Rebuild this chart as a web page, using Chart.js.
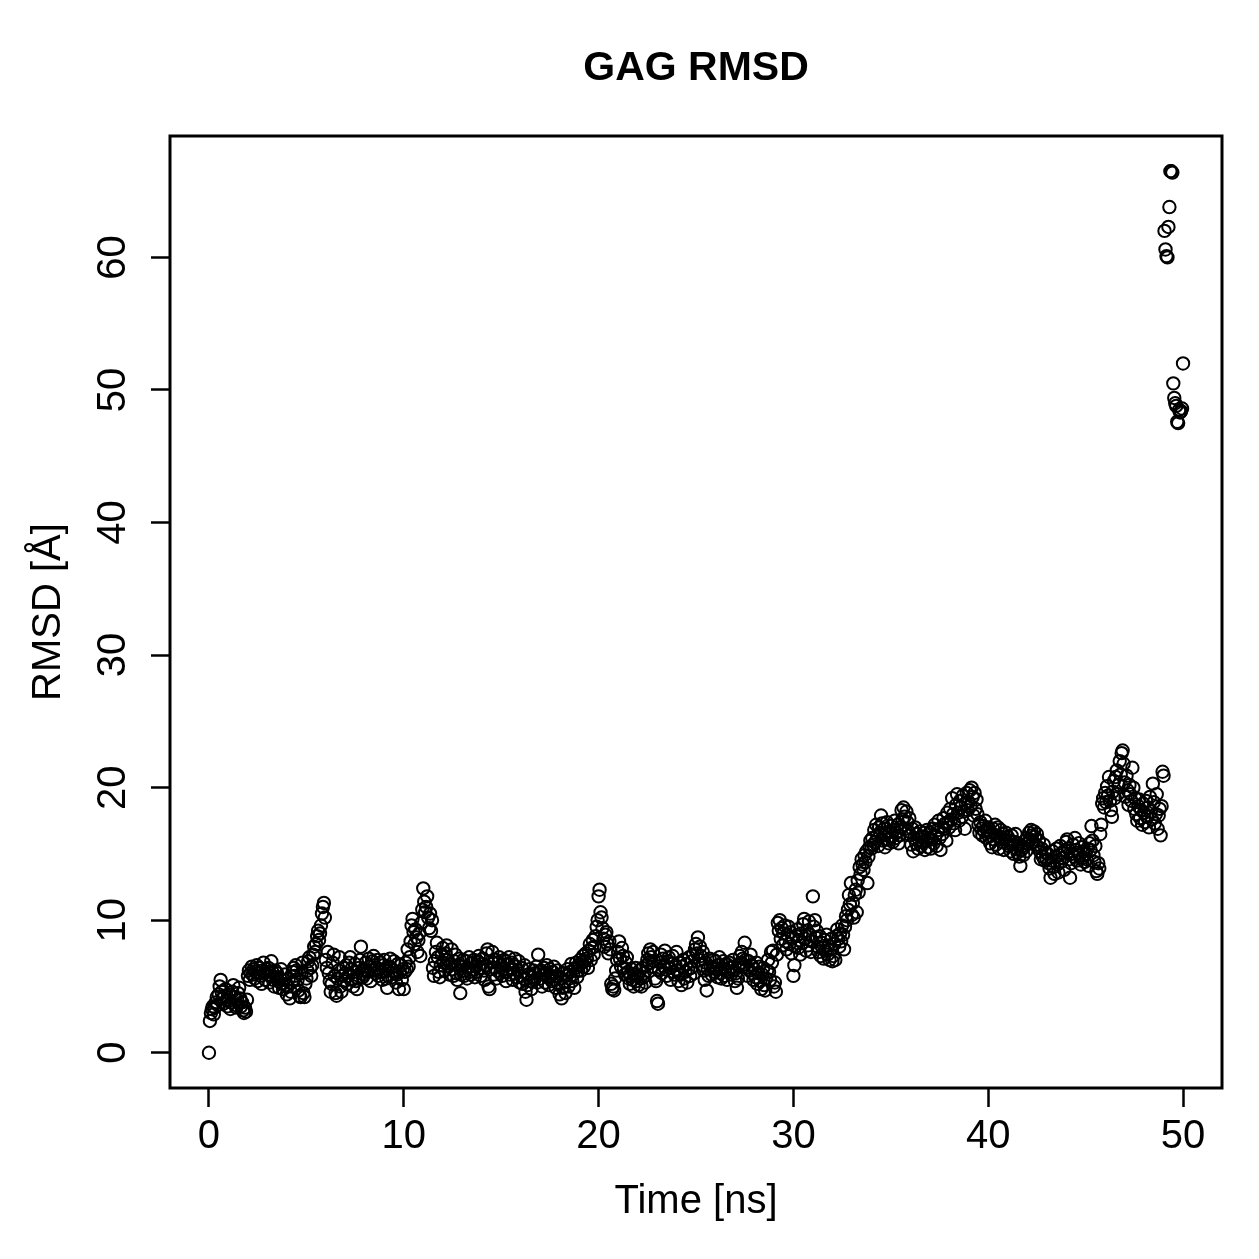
<!DOCTYPE html>
<html>
<head>
<meta charset="utf-8">
<script src="https://cdn.jsdelivr.net/npm/chart.js@4.4.0/dist/chart.umd.min.js"></script>
<style>
  html, body { margin: 0; padding: 0; background: #fff; }
  canvas { display: block; }
</style>
</head>
<body>
<canvas id="myChart" width="1259" height="1259"></canvas>
<script>
const chartTitle = 'GAG RMSD';
const xTitle = 'Time [ns]';
const yTitle = 'RMSD [Å]';
const xTicks = [0, 10, 20, 30, 40, 50];
const yTicks = [0, 10, 20, 30, 40, 50, 60];
const timeStep = 0.05; // ns between frames

// RMSD in Angstrom, one row per ns
const rmsd = [
  0.0, 2.4, 3.0, 3.3, 3.5, 2.9, 3.4, 3.8, 4.2, 3.6, 4.4, 5.0, 5.5, 4.6, 4.1, 3.7, 4.3, 4.8, 4.0, 3.5,
  3.9, 4.4, 3.3, 3.8, 4.6, 5.1, 4.2, 3.6, 3.4, 4.0, 4.5, 4.9, 4.1, 3.5, 3.8, 3.2, 3.0, 3.4, 3.1, 4.0,
  5.8, 6.2, 5.5, 6.0, 6.5, 5.9, 6.3, 5.6, 6.1, 6.6, 5.4, 6.0, 6.4, 5.8, 5.2, 6.2, 6.8, 6.0, 5.5, 6.3,
  5.9, 6.4, 5.3, 5.8, 6.9, 6.1, 5.5, 5.0, 6.2, 5.7, 6.0, 5.4, 4.9, 5.6, 6.3, 5.2, 4.8, 5.5, 5.9, 5.1,
  4.4, 5.0, 5.6, 4.1, 4.6, 5.3, 6.1, 6.4, 5.8, 6.6, 6.2, 5.5, 4.7, 4.3, 4.2, 6.0, 6.8, 4.5, 4.2, 5.2,
  5.6, 6.2, 6.9, 7.2, 6.4, 5.8, 6.6, 7.4, 8.0, 7.6, 8.2, 8.8, 9.2, 8.5, 9.0, 9.6, 10.5, 11.0, 11.3, 10.2,
  7.0, 6.4, 7.6, 6.0, 5.4, 4.6, 5.2, 6.8, 7.4, 5.8, 4.5, 4.3, 5.6, 6.2, 7.2, 5.0, 4.6, 5.8, 6.4, 5.4,
  6.0, 6.6, 5.2, 5.8, 6.8, 7.2, 6.3, 5.5, 5.0, 6.1, 6.7, 5.4, 4.8, 5.6, 6.4, 7.0, 8.0, 6.2, 5.7, 5.9,
  6.3, 6.8, 5.6, 6.1, 7.1, 6.5, 5.4, 6.2, 6.9, 7.3, 6.6, 6.0, 6.4, 7.0, 5.8, 6.3, 6.8, 6.1, 5.5, 6.6,
  7.0, 6.2, 5.6, 4.9, 5.8, 6.5, 7.1, 6.4, 5.7, 6.2, 6.9, 6.0, 5.3, 5.9, 6.7, 4.8, 6.1, 6.6, 5.5, 6.3,
  4.8, 6.1, 6.8, 6.3, 7.8, 6.5, 7.2, 8.4, 9.6, 10.1, 9.1, 8.2, 9.3, 8.7, 7.6, 8.5, 9.0, 7.3, 9.8, 10.8,
  12.4, 11.4, 10.6, 11.0, 11.8, 10.2, 9.4, 10.5, 9.2, 10.0, 6.4, 5.8, 6.9, 7.6, 8.3, 7.2, 6.1, 5.7, 6.6, 7.4,
  7.9, 6.8, 6.2, 7.5, 8.1, 7.0, 6.5, 5.9, 6.7, 7.8, 6.3, 5.8, 6.9, 7.4, 6.0, 5.5, 6.6, 7.1, 4.5, 5.9,
  6.5, 7.0, 5.8, 6.2, 6.9, 5.6, 6.4, 7.2, 6.1, 5.9, 6.8, 6.3, 7.0, 5.7, 6.5, 6.1, 6.9, 7.3, 6.4, 5.8,
  6.7, 7.1, 6.2, 5.5, 6.6, 7.5, 7.8, 5.0, 4.8, 6.3, 6.9, 7.6, 5.9, 6.4, 7.0, 5.6, 6.2, 6.8, 7.2, 6.0,
  6.6, 5.8, 6.3, 7.0, 6.9, 5.4, 6.1, 6.7, 7.2, 5.9, 6.4, 6.8, 5.5, 6.0, 7.1, 6.5, 5.7, 6.2, 6.9, 5.3,
  5.8, 6.4, 5.2, 5.6, 6.6, 4.6, 4.0, 5.1, 5.9, 6.3, 5.4, 4.8, 5.7, 6.2, 5.5, 6.0, 6.5, 5.3, 7.4, 6.1,
  5.6, 6.2, 5.0, 5.9, 6.4, 5.3, 6.0, 6.6, 5.7, 5.1, 6.3, 5.8, 5.4, 6.1, 6.5, 5.5, 4.9, 5.8, 6.2, 5.2,
  4.4, 5.6, 4.1, 4.9, 6.0, 5.3, 4.5, 5.8, 6.3, 5.0, 5.6, 6.1, 6.7, 5.4, 5.9, 4.9, 6.4, 6.8, 5.7, 6.2,
  6.6, 7.0, 6.2, 6.8, 7.3, 6.5, 6.9, 7.5, 7.1, 6.4, 7.7, 8.2, 7.0, 7.9, 8.5, 7.4, 8.0, 8.8, 9.5, 10.0,
  11.8, 12.3, 10.6, 10.2, 9.4, 8.6, 8.0, 8.9, 9.1, 8.2, 7.5, 8.4, 7.8, 5.2, 4.8, 5.0, 4.7, 5.6, 6.2, 7.0,
  7.6, 8.4, 7.1, 6.5, 7.9, 7.3, 6.4, 5.9, 6.8, 7.2, 6.1, 5.6, 5.2, 5.8, 6.3, 5.5, 5.0, 5.9, 6.4, 5.4,
  5.8, 5.1, 6.2, 5.6, 5.0, 6.4, 5.7, 6.0, 5.3, 6.6, 7.0, 7.5, 6.8, 7.8, 7.2, 6.5, 7.6, 6.9, 5.6, 5.4,
  3.9, 3.7, 6.2, 6.8, 7.4, 6.0, 7.1, 6.5, 7.7, 6.3, 5.8, 6.9, 7.2, 6.4, 5.5, 6.7, 7.3, 6.1, 5.9, 6.6,
  7.6, 6.2, 5.4, 6.8, 5.9, 5.1, 6.5, 7.0, 5.6, 6.1, 6.7, 5.3, 6.3, 7.2, 5.8, 6.4, 6.9, 7.4, 6.0, 7.8,
  8.2, 7.5, 8.7, 7.0, 8.0, 7.3, 6.6, 7.6, 6.2, 5.5, 6.8, 4.7, 6.3, 5.8, 7.1, 6.5, 5.9, 6.4, 7.0, 6.1,
  6.9, 6.3, 5.7, 6.6, 7.2, 6.0, 5.6, 6.4, 6.9, 5.8, 6.2, 6.7, 5.5, 6.1, 6.8, 6.4, 5.9, 6.5, 7.0, 6.2,
  5.4, 6.0, 4.9, 5.6, 6.6, 7.3, 6.8, 7.6, 7.1, 6.5, 8.3, 7.0, 6.4, 5.8, 6.9, 6.2, 7.4, 6.6, 6.0, 5.5,
  6.3, 5.7, 6.8, 5.2, 6.0, 6.5, 5.4, 4.8, 5.9, 6.4, 5.1, 4.7, 5.6, 6.2, 7.0, 6.1, 5.5, 7.6, 6.8, 7.7,
  5.0, 5.3, 4.6, 7.4, 9.8, 9.2, 10.0, 8.6, 9.4, 8.1, 9.0, 9.6, 8.4, 7.8, 8.9, 9.5, 8.2, 9.1, 7.5, 8.7,
  5.8, 6.6, 8.0, 8.8, 9.3, 7.9, 8.5, 7.4, 9.0, 8.3, 9.7, 10.1, 8.6, 7.7, 9.2, 8.1, 9.9, 8.9, 7.6, 8.4,
  11.8, 9.5, 10.0, 8.7, 9.2, 8.0, 7.6, 8.8, 7.3, 8.3, 7.9, 7.1, 8.5, 7.7, 8.9, 7.4, 8.1, 7.0, 7.8, 8.6,
  6.9, 7.3, 8.2, 7.0, 8.8, 9.3, 8.6, 8.0, 9.0, 8.4, 9.6, 8.9, 7.8, 9.5, 10.3, 10.0, 10.8, 11.9, 11.2, 12.8,
  10.4, 11.3, 10.2, 11.9, 12.3, 10.6, 13.0, 12.1, 14.0, 13.5, 14.6, 14.2, 13.8, 14.9, 14.4, 15.2, 12.8, 14.8, 15.5, 16.0,
  15.4, 16.2, 15.7, 16.8, 15.9, 17.2, 16.4, 15.6, 17.0, 16.6, 17.9, 17.3, 16.0, 16.9, 15.5, 16.5, 17.4, 16.1, 15.8, 16.7,
  17.1, 16.3, 15.9, 16.8, 17.5, 16.2, 16.6, 17.2, 15.8, 16.4, 17.0, 18.3, 17.6, 18.5, 17.8, 16.9, 18.2, 17.4, 16.7, 17.7,
  16.4, 15.7, 16.9, 15.2, 16.2, 17.0, 15.8, 16.5, 15.4, 16.1, 16.7, 15.6, 16.3, 15.9, 16.6, 15.3, 16.0, 16.8, 15.5, 16.2,
  16.6, 15.4, 16.1, 16.9, 15.8, 17.2, 16.4, 15.6, 16.8, 17.5, 16.2, 15.3, 17.0, 16.5, 17.7, 16.9, 17.3, 16.0, 18.1, 17.4,
  17.0, 18.4, 17.6, 19.2, 18.0, 17.3, 16.8, 18.7, 19.5, 18.1, 17.5, 19.0, 18.5, 17.8, 19.4, 18.2, 16.9, 18.8, 19.6, 18.3,
  18.9, 19.8, 18.6, 20.0, 19.3, 17.9, 19.6, 18.4, 19.1, 18.0, 17.2, 16.6, 17.4, 16.9, 16.4, 17.1, 16.7, 17.5, 16.2, 16.8,
  17.0, 16.3, 15.8, 16.6, 15.5, 16.9, 16.1, 17.2, 15.7, 16.4, 17.0, 15.4, 16.2, 16.8, 15.9, 16.5, 15.3, 16.1, 16.6, 15.8,
  16.3, 15.6, 16.0, 15.2, 16.4, 15.7, 15.0, 15.9, 16.5, 15.4, 15.1, 15.8, 14.8, 14.1, 15.3, 15.6, 14.9, 15.5, 16.0, 15.2,
  16.2, 15.8, 16.6, 16.1, 16.8, 16.4, 15.9, 16.7, 16.3, 15.7, 16.5, 15.5, 16.0, 15.2, 14.6, 15.4, 14.8, 15.7, 14.5, 15.1,
  14.6, 15.0, 14.3, 13.9, 13.2, 14.5, 15.2, 14.0, 13.5, 14.8, 15.4, 14.2, 13.6, 14.9, 15.6, 14.4, 15.1, 14.7, 13.8, 15.3,
  15.9, 16.1, 15.4, 14.6, 13.2, 14.3, 15.0, 15.7, 14.8, 16.2, 15.3, 14.5, 15.1, 15.8, 14.9, 14.2, 15.5, 14.7, 15.2, 14.4,
  15.0, 14.6, 15.4, 14.1, 15.8, 15.3, 17.1, 16.0, 14.9, 14.4, 15.6, 13.7, 13.5, 14.3, 13.9, 16.5, 17.2, 18.8, 19.2, 18.5,
  19.6, 18.9, 20.1, 19.4, 20.8, 19.0, 18.3, 17.8, 19.7, 20.5, 19.2, 20.8, 21.3, 19.5, 20.2, 22.0, 21.0, 22.6, 22.8, 21.8,
  20.4, 19.3, 20.9, 19.8, 18.7, 20.2, 19.5, 19.0, 21.5, 20.0, 18.4, 19.2, 18.0, 17.5, 18.6, 19.1, 17.7, 18.3, 17.2, 18.8,
  18.1, 17.4, 19.0, 17.8, 18.5, 17.0, 19.3, 18.2, 17.6, 20.3, 18.9, 17.3, 18.0, 19.5, 16.9, 17.9, 18.4, 16.4, 18.6, 21.2,
  20.9, 62.0, 60.6, 60.1, 60.0, 62.3, 63.8, 66.5, 66.5, 66.4, 50.5, 49.4, 49.0, 48.8, 47.6, 47.5, 48.5, 48.3, 48.4, 48.6,
  52.0
];

const fontFamily = '"Liberation Sans", Arial, Helvetica, sans-serif';
const points = rmsd.map((v, i) => ({ x: i * timeStep, y: v }));

const background = {
  id: 'background',
  beforeDraw: (chart) => {
    const ctx = chart.ctx;
    ctx.save();
    ctx.fillStyle = '#fff';
    ctx.fillRect(0, 0, chart.width, chart.height);
    ctx.restore();
  }
};

// box around the plot region and the main title, R style
const frame = {
  id: 'frame',
  afterDraw: (chart) => {
    const {ctx, chartArea: a} = chart;
    ctx.save();
    ctx.strokeStyle = '#000';
    ctx.lineWidth = 3;
    ctx.strokeRect(a.left, a.top, a.right - a.left, a.bottom - a.top);
    ctx.fillStyle = '#000';
    ctx.font = 'bold 41px ' + fontFamily;
    ctx.textAlign = 'center';
    ctx.textBaseline = 'middle';
    ctx.fillText(chartTitle, (a.left + a.right) / 2, 69);
    ctx.restore();
  }
};

const tickGrid = {
  drawOnChartArea: false,
  drawTicks: true,
  tickLength: 19,
  tickWidth: 2.5,
  tickColor: '#000'
};

const ctx = document.getElementById('myChart').getContext('2d');
const myChart = new Chart(ctx, {
  type: 'scatter',
  data: {
    datasets: [{
      data: points,
      pointStyle: 'circle',
      pointRadius: 6.2,
      pointHoverRadius: 6.2,
      borderWidth: 2,
      borderColor: '#000',
      backgroundColor: 'rgba(0,0,0,0)',
      showLine: false
    }]
  },
  plugins: [background, frame],
  options: {
    responsive: false,
    animation: false,
    events: [],
    layout: { padding: { left: 0, top: 136, right: 37, bottom: 0 } },
    plugins: {
      legend: { display: false },
      tooltip: { enabled: false }
    },
    scales: {
      x: {
        type: 'linear',
        position: 'bottom',
        min: -2,
        max: 52,
        afterBuildTicks: (s) => { s.ticks = xTicks.map(v => ({ value: v })); },
        afterFit: (s) => { s.height = 171; },
        grid: tickGrid,
        border: { display: false },
        ticks: {
          minRotation: 0,
          maxRotation: 0,
          padding: 6,
          color: '#000',
          font: { size: 40, family: fontFamily }
        },
        title: {
          display: true,
          text: xTitle,
          color: '#000',
          font: { size: 40, family: fontFamily },
          padding: { top: 0, bottom: 33 }
        }
      },
      y: {
        type: 'linear',
        position: 'left',
        min: -2.66,
        max: 69.16,
        afterBuildTicks: (s) => { s.ticks = yTicks.map(v => ({ value: v })); },
        afterFit: (s) => { s.width = 170; },
        grid: tickGrid,
        border: { display: false },
        ticks: {
          minRotation: 90,
          maxRotation: 90,
          crossAlign: 'center',
          padding: 15,
          color: '#000',
          font: { size: 40, family: fontFamily }
        },
        title: {
          display: true,
          text: yTitle,
          color: '#000',
          font: { size: 40, family: fontFamily },
          padding: { top: 25, bottom: 0 }
        }
      }
    }
  }
});
</script>
</body>
</html>
